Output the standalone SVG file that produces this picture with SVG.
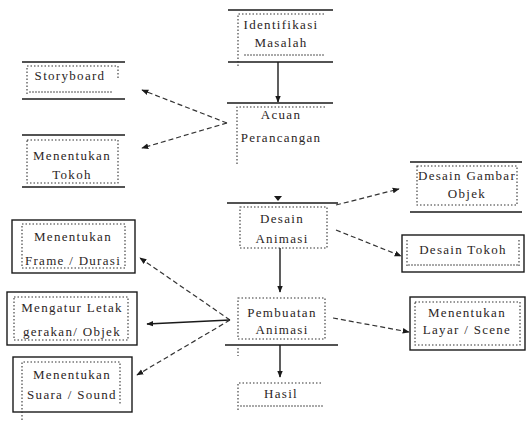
<svg xmlns="http://www.w3.org/2000/svg" width="528" height="431" viewBox="0 0 528 431">
<style>
text{font-family:"Liberation Serif","Times New Roman",serif;font-size:13px;fill:#2b2525;text-anchor:middle;letter-spacing:1.3px}
.solid{stroke:#1a1a1a;stroke-width:1.4;fill:none}
.dot{stroke:#333;stroke-width:1.1;stroke-dasharray:1.5 2;fill:none}
.wavy{stroke:#555;stroke-width:1;stroke-dasharray:2 1;fill:none}
.dash{stroke:#333;stroke-width:1.2;stroke-dasharray:5 3;fill:none}
.line{stroke:#1a1a1a;stroke-width:1.4;fill:none}
</style>
<defs>
<marker id="ah" viewBox="0 0 10 10" refX="9" refY="5" markerWidth="7" markerHeight="7" orient="auto" markerUnits="userSpaceOnUse">
<path d="M0,1 L10,5 L0,9 z" fill="#1a1a1a"/>
</marker>
</defs>
<rect width="528" height="431" fill="#fff"/>

<g id="connectors">
<path class="line" d="M278,62 L278,102" marker-end="url(#ah)"/>
<path d="M274,196 L282,196 L278,201 z" fill="#1a1a1a"/>
<path class="dash" d="M227,123 L142,90" marker-end="url(#ah)"/>
<path class="dash" d="M227,123 L142,148" marker-end="url(#ah)"/>
<path class="dash" d="M336,205 L399,189" marker-end="url(#ah)"/>
<path class="dash" d="M336,230 L401,256" marker-end="url(#ah)"/>
<path class="line" d="M280,248 L280,292" marker-end="url(#ah)"/>
<path class="dash" d="M230,320 L140,258" marker-end="url(#ah)"/>
<path class="line" d="M230,320 L147,324" marker-end="url(#ah)"/>
<path class="dash" d="M230,320 L137,375" marker-end="url(#ah)"/>
<path class="dash" d="M333,318 L409,332" marker-end="url(#ah)"/>
<path class="line" d="M280,345 L280,377" marker-end="url(#ah)"/>
</g>

<g id="identifikasi">
<line class="solid" x1="228" y1="10" x2="333" y2="10"/>
<line class="solid" x1="228" y1="62" x2="333" y2="62"/>
<path class="dot" d="M238,66 L238,14 L324,14"/>
<line class="wavy" x1="244" y1="55" x2="324" y2="55"/>
<text x="281" y="29">Identifikasi</text>
<text x="281" y="47">Masalah</text>
</g>

<g id="acuan">
<line class="solid" x1="227" y1="103" x2="333" y2="103"/>
<path class="dot" d="M237,164 L237,107 L326,107"/>
<text x="281" y="119">Acuan</text>
<text x="281" y="142">Perancangan</text>
</g>

<g id="storyboard">
<line class="solid" x1="22" y1="62" x2="125" y2="62"/>
<line class="solid" x1="22" y1="99" x2="125" y2="99"/>
<path class="dot" d="M27,94 L27,66 L118,66 L118,80"/>
<line class="wavy" x1="29" y1="92" x2="112" y2="92"/>
<text x="70" y="80">Storyboard</text>
</g>

<g id="tokoh">
<line class="solid" x1="22" y1="135" x2="125" y2="135"/>
<line class="solid" x1="22" y1="187" x2="125" y2="187"/>
<rect class="dot" x="27" y="140" width="91" height="43"/>
<text x="72" y="160">Menentukan</text>
<text x="72" y="179">Tokoh</text>
</g>

<g id="desain-animasi">
<line class="solid" x1="227" y1="203" x2="338" y2="203"/>
<rect class="dot" x="240" y="207" width="87" height="41"/>
<text x="282" y="223">Desain</text>
<text x="282" y="243">Animasi</text>
</g>

<g id="desain-gambar">
<line class="solid" x1="410" y1="162" x2="522" y2="162"/>
<line class="solid" x1="410" y1="212" x2="522" y2="212"/>
<rect class="dot" x="417" y="166" width="100" height="39"/>
<text x="467" y="180">Desain Gambar</text>
<text x="467" y="198">Objek</text>
</g>

<g id="desain-tokoh">
<rect class="solid" x="402" y="235" width="122" height="37"/>
<path class="dot" d="M407,266 L407,240 M519,240 L519,266"/>
<line class="wavy" x1="408" y1="265" x2="518" y2="265"/>
<text x="463" y="254">Desain Tokoh</text>
</g>

<g id="frame-durasi">
<rect class="solid" x="12" y="220" width="123" height="53"/>
<rect class="dot" x="22" y="224" width="103" height="44"/>
<text x="73" y="241">Menentukan</text>
<text x="73" y="265">Frame / Durasi</text>
</g>

<g id="mengatur">
<rect class="solid" x="7" y="292" width="130" height="53"/>
<rect class="dot" x="14" y="297" width="114" height="43"/>
<text x="72" y="312">Mengatur Letak</text>
<text x="72" y="336">gerakan/ Objek</text>
</g>

<g id="suara">
<rect class="solid" x="13" y="357" width="119" height="55"/>
<path class="dot" d="M22,420 L22,362 L120,362 L120,405"/>
<text x="72" y="379">Menentukan</text>
<text x="72" y="399">Suara / Sound</text>
</g>

<g id="pembuatan">
<rect class="dot" x="238" y="298" width="87" height="41"/>
<line class="solid" x1="225" y1="345" x2="338" y2="345"/>
<path class="dot" d="M238,348 L238,356"/>
<text x="282" y="317">Pembuatan</text>
<text x="282" y="334">Animasi</text>
</g>

<g id="layar">
<rect class="solid" x="410" y="297" width="115" height="53"/>
<rect class="dot" x="415" y="302" width="105" height="43"/>
<text x="467" y="317">Menentukan</text>
<text x="467" y="334">Layar / Scene</text>
</g>

<g id="hasil">
<path class="dot" d="M238,410 L238,383 L323,383"/>
<line class="wavy" x1="240" y1="406" x2="323" y2="406"/>
<text x="281" y="398">Hasil</text>
</g>
</svg>
